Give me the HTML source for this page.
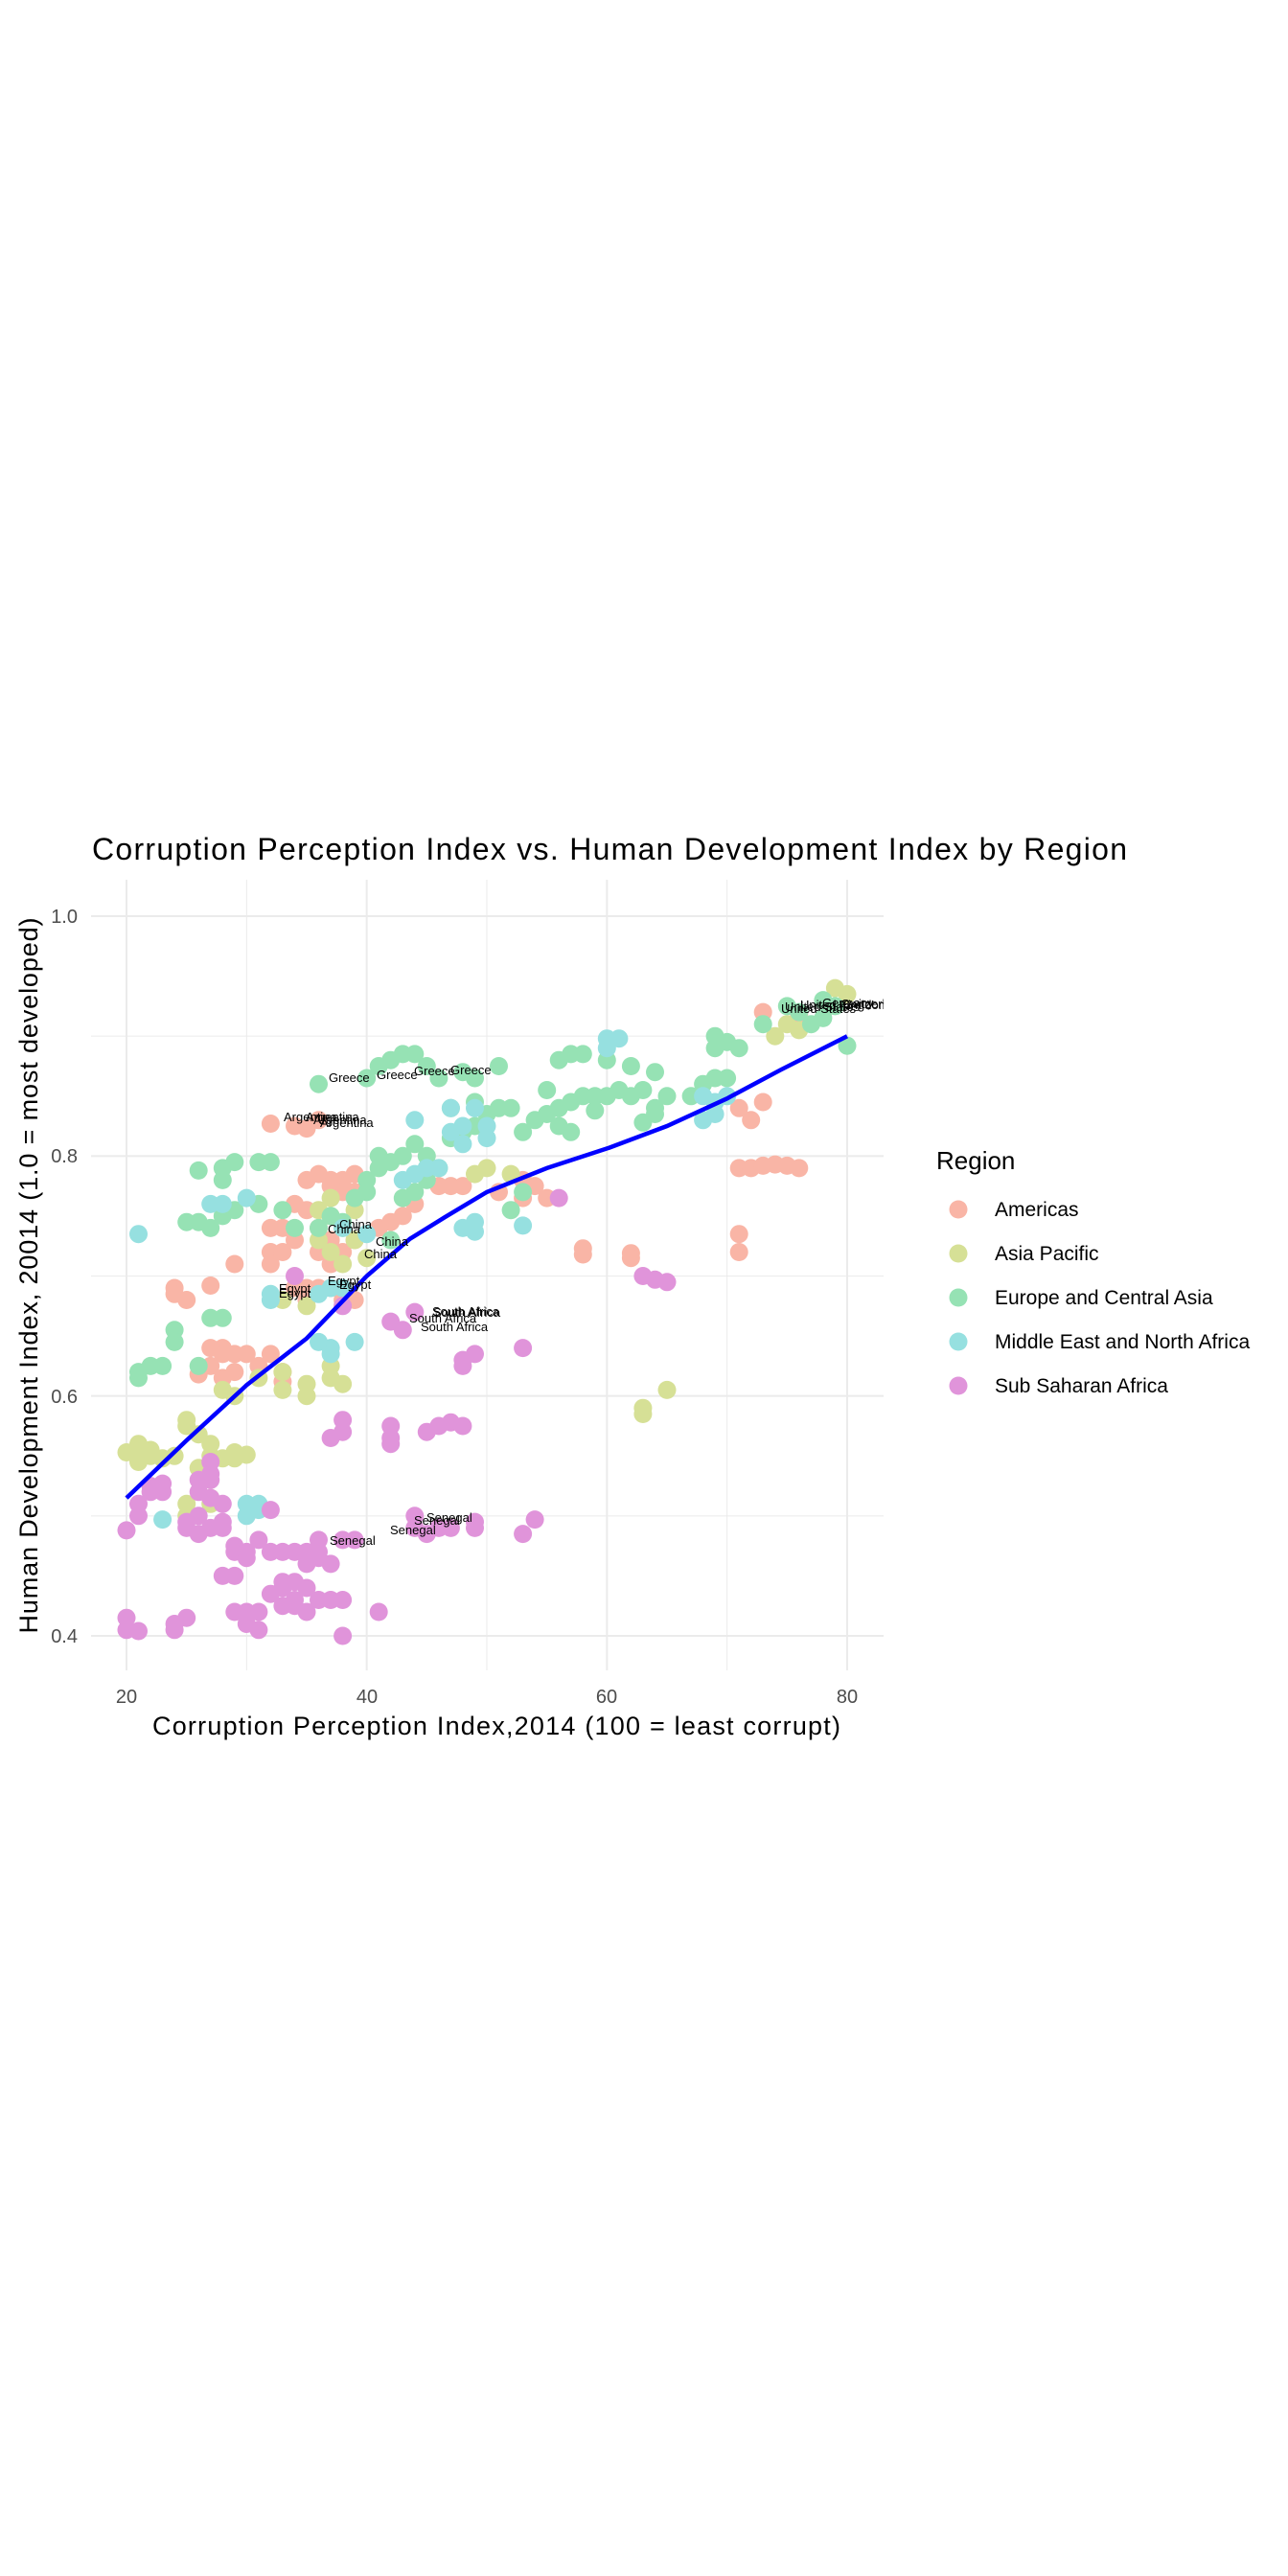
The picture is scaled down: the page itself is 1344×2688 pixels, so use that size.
<!DOCTYPE html>
<html><head><meta charset="utf-8"><style>
html,body{margin:0;padding:0;background:#fff;}
svg{display:block;font-family:"Liberation Sans",Arial,sans-serif;}
</style></head><body>
<svg id="s" width="1344" height="2688" xmlns="http://www.w3.org/2000/svg">
<defs><clipPath id="cp"><rect x="95" y="918" width="827" height="825"/></clipPath></defs>
<g id="grid"></g>
<g id="pts" clip-path="url(#cp)"></g>
<polyline id="smooth" fill="none" stroke="#0000ff" stroke-width="4.5" clip-path="url(#cp)"/>
<g clip-path="url(#cp)" font-size="13" fill="#000">
<text x="343" y="1129">Greece</text><text x="393" y="1126">Greece</text><text x="432" y="1122">Greece</text><text x="470" y="1121">Greece</text>
<text x="296" y="1170">Argentina</text><text x="319" y="1170">Argentina</text><text x="327" y="1173">Argentina</text><text x="334" y="1176">Argentina</text>
<text x="342" y="1287">China</text><text x="354" y="1282">China</text><text x="392" y="1300">China</text><text x="380" y="1313">China</text>
<text x="291" y="1349">Egypt</text><text x="291" y="1354">Egypt</text><text x="342" y="1341">Egypt</text><text x="354" y="1345">Egypt</text>
<text x="451" y="1373">South Africa</text><text x="452" y="1374">South Africa</text><text x="427" y="1380">South Africa</text><text x="439" y="1389">South Africa</text>
<text x="344" y="1612">Senegal</text><text x="407" y="1601">Senegal</text><text x="432" y="1591">Senegal</text><text x="445" y="1588">Senegal</text>
<text x="815" y="1057">United States</text><text x="819" y="1055">United States</text><text x="835" y="1053">United Kingdom</text><text x="858" y="1051">Germany</text><text x="878" y="1052">Switzerland</text>
</g>
<text x="96" y="897" font-size="32" textLength="1080" fill="#000">Corruption Perception Index vs. Human Development Index by Region</text>
<text x="518" y="1810" font-size="27" text-anchor="middle" textLength="718" fill="#000">Corruption Perception Index,2014 (100 = least corrupt)</text>
<text transform="translate(39,1331) rotate(-90)" font-size="27" text-anchor="middle" textLength="747" fill="#000">Human Development Index, 20014 (1.0 = most developed)</text>
<g font-size="20" fill="#4d4d4d" text-anchor="middle">
<text x="132" y="1777">20</text><text x="383" y="1777">40</text><text x="633" y="1777">60</text><text x="884" y="1777">80</text>
</g>
<g font-size="20" fill="#4d4d4d" text-anchor="end">
<text x="81" y="963">1.0</text><text x="81" y="1213">0.8</text><text x="81" y="1464">0.6</text><text x="81" y="1714">0.4</text>
</g>
<text x="977" y="1220" font-size="26" fill="#000">Region</text>
<g font-size="21" fill="#000">
<circle cx="1000" cy="1262" r="9.5" fill="#F9B5A6"/><text x="1038" y="1269">Americas</text>
<circle cx="1000" cy="1308" r="9.5" fill="#D6E096"/><text x="1038" y="1315">Asia Pacific</text>
<circle cx="1000" cy="1354" r="9.5" fill="#96E2B4"/><text x="1038" y="1361">Europe and Central Asia</text>
<circle cx="1000" cy="1400" r="9.5" fill="#96E0E0"/><text x="1038" y="1407">Middle East and North Africa</text>
<circle cx="1000" cy="1446" r="9.5" fill="#E094DA"/><text x="1038" y="1453">Sub Saharan Africa</text>
</g>
</svg>
<script>
var NS="http://www.w3.org/2000/svg";
function X(c){return 132+(c-20)*12.533;}
function Y(h){return 956+(1-h)*1251.7;}
var g=document.getElementById("grid");
function ln(x1,y1,x2,y2,w){var l=document.createElementNS(NS,"line");l.setAttribute("x1",x1);l.setAttribute("y1",y1);l.setAttribute("x2",x2);l.setAttribute("y2",y2);l.setAttribute("stroke","#ebebeb");l.setAttribute("stroke-width",w);g.appendChild(l);}
[20,40,60,80].forEach(function(c){ln(X(c),918,X(c),1743,2);});
[30,50,70].forEach(function(c){ln(X(c),918,X(c),1743,1);});
[1.0,0.8,0.6,0.4].forEach(function(h){ln(95,Y(h),922,Y(h),2);});
[0.9,0.7,0.5].forEach(function(h){ln(95,Y(h),922,Y(h),1);});
var D={
"#F9B5A6":[[32,0.827],[34,0.825],[35,0.823],[36,0.83],[36,0.785],[37,0.78],[38,0.77],[38,0.78],[39,0.785],[38,0.775],[39,0.77],[37,0.775],[35,0.78],[34,0.76],[35,0.755],[32,0.74],[33,0.74],[32,0.72],[33,0.72],[32,0.71],[34,0.73],[36,0.74],[37,0.73],[38,0.72],[39,0.73],[36,0.72],[37,0.71],[37,0.69],[38,0.68],[39,0.68],[41,0.74],[42,0.745],[43,0.75],[44,0.76],[46,0.775],[47,0.775],[48,0.775],[51,0.77],[53,0.78],[54,0.775],[55,0.765],[53,0.765],[58,0.723],[58,0.718],[62,0.719],[62,0.715],[71,0.79],[72,0.79],[73,0.792],[74,0.793],[75,0.792],[76,0.79],[71,0.735],[71,0.72],[72,0.83],[73,0.845],[71,0.84],[73,0.92],[76,0.918],[24,0.69],[24,0.685],[25,0.68],[27,0.692],[29,0.71],[27,0.64],[28,0.64],[28,0.635],[29,0.635],[30,0.635],[27,0.625],[28,0.615],[29,0.62],[26,0.618],[31,0.625],[33,0.612],[32,0.635],[33,0.62],[35,0.69],[36,0.69],[34,0.69],[35,0.68]],
"#D6E096":[[20,0.553],[21,0.56],[21,0.545],[22,0.55],[22,0.555],[21,0.548],[23,0.548],[24,0.55],[25,0.575],[25,0.58],[26,0.568],[27,0.56],[26,0.54],[27,0.55],[29,0.553],[29,0.548],[30,0.551],[28,0.548],[25,0.51],[25,0.5],[27,0.515],[27,0.51],[28,0.605],[29,0.6],[31,0.615],[33,0.62],[33,0.605],[35,0.61],[35,0.6],[37,0.625],[37,0.615],[33,0.68],[35,0.675],[36,0.755],[37,0.765],[37,0.75],[38,0.74],[39,0.755],[36,0.73],[37,0.72],[38,0.71],[39,0.73],[40,0.715],[49,0.785],[50,0.79],[52,0.785],[63,0.59],[63,0.585],[65,0.605],[79,0.94],[80,0.935],[74,0.9],[75,0.91],[76,0.905],[38,0.61]],
"#96E2B4":[[21,0.62],[21,0.615],[22,0.625],[23,0.625],[24,0.655],[24,0.645],[26,0.625],[27,0.665],[28,0.665],[25,0.745],[26,0.745],[27,0.74],[28,0.75],[29,0.755],[26,0.788],[28,0.79],[29,0.795],[28,0.78],[31,0.795],[32,0.795],[31,0.76],[33,0.755],[34,0.74],[36,0.86],[40,0.865],[41,0.875],[42,0.88],[43,0.885],[44,0.885],[45,0.875],[46,0.865],[48,0.87],[49,0.865],[51,0.875],[39,0.765],[40,0.77],[40,0.78],[41,0.79],[41,0.8],[42,0.795],[43,0.8],[44,0.81],[45,0.8],[47,0.815],[48,0.82],[47,0.84],[49,0.845],[50,0.835],[49,0.825],[51,0.84],[52,0.84],[53,0.82],[54,0.83],[55,0.835],[56,0.84],[57,0.845],[58,0.85],[59,0.85],[60,0.85],[61,0.855],[62,0.85],[63,0.855],[64,0.84],[65,0.85],[55,0.855],[56,0.88],[57,0.885],[58,0.885],[60,0.88],[62,0.875],[64,0.87],[67,0.85],[68,0.86],[69,0.865],[70,0.865],[69,0.89],[69,0.9],[70,0.895],[71,0.89],[73,0.91],[75,0.925],[77,0.91],[78,0.915],[76,0.92],[80,0.892],[79,0.925],[78,0.93],[43,0.765],[44,0.77],[45,0.78],[46,0.79],[36,0.74],[38,0.745],[42,0.73],[52,0.755],[53,0.77],[63,0.828],[64,0.835],[56,0.825],[57,0.82],[59,0.838],[37,0.75],[45,0.79]],
"#96E0E0":[[21,0.735],[23,0.497],[27,0.76],[28,0.76],[30,0.765],[30,0.51],[31,0.51],[31,0.505],[30,0.5],[32,0.685],[32,0.68],[36,0.645],[37,0.64],[37,0.635],[39,0.645],[38,0.69],[36,0.685],[37,0.69],[44,0.83],[47,0.84],[47,0.82],[48,0.825],[49,0.84],[50,0.825],[48,0.81],[50,0.815],[44,0.785],[45,0.79],[43,0.78],[46,0.79],[53,0.742],[48,0.74],[49,0.745],[60,0.898],[61,0.898],[60,0.89],[68,0.85],[69,0.845],[68,0.83],[69,0.835],[70,0.85],[38,0.74],[49,0.737],[40,0.735]],
"#E094DA":[[20,0.488],[20,0.415],[20,0.405],[21,0.404],[21,0.5],[21,0.51],[22,0.525],[22,0.52],[23,0.527],[24,0.41],[24,0.405],[25,0.415],[25,0.495],[25,0.49],[26,0.485],[26,0.52],[26,0.53],[27,0.545],[27,0.535],[27,0.515],[28,0.51],[28,0.495],[28,0.49],[29,0.475],[29,0.47],[30,0.465],[30,0.47],[29,0.42],[30,0.41],[30,0.42],[31,0.42],[31,0.405],[28,0.45],[29,0.45],[31,0.48],[32,0.505],[32,0.47],[33,0.47],[34,0.47],[35,0.46],[35,0.47],[36,0.465],[36,0.47],[36,0.48],[37,0.46],[38,0.48],[39,0.48],[32,0.435],[33,0.44],[33,0.445],[34,0.445],[35,0.44],[34,0.425],[35,0.42],[34,0.43],[33,0.425],[36,0.43],[37,0.43],[38,0.43],[41,0.42],[38,0.4],[37,0.565],[38,0.57],[38,0.58],[42,0.565],[42,0.575],[42,0.56],[45,0.57],[46,0.575],[47,0.578],[48,0.575],[44,0.49],[45,0.485],[46,0.49],[47,0.49],[49,0.495],[49,0.49],[53,0.485],[54,0.497],[44,0.5],[42,0.662],[43,0.655],[48,0.63],[48,0.625],[49,0.635],[53,0.64],[56,0.765],[63,0.7],[64,0.697],[65,0.695],[34,0.7],[27,0.53],[26,0.5],[27,0.49],[38,0.675],[44,0.67],[23,0.52]]
};
var P=document.getElementById("pts");
for(var col in D){D[col].forEach(function(p){var c=document.createElementNS(NS,"circle");c.setAttribute("cx",X(p[0]).toFixed(1));c.setAttribute("cy",Y(p[1]).toFixed(1));c.setAttribute("r","9.5");c.setAttribute("fill",col);P.appendChild(c);});}
var S=[[20,0.515],[25,0.563],[30,0.609],[35,0.648],[40,0.7],[43.6,0.731],[46.5,0.749],[50,0.77],[55,0.79],[60.2,0.807],[65,0.825],[70,0.848],[74.5,0.872],[80,0.9]];
document.getElementById("smooth").setAttribute("points",S.map(function(p){return X(p[0]).toFixed(1)+","+Y(p[1]).toFixed(1);}).join(" "));
</script>
</body></html>
